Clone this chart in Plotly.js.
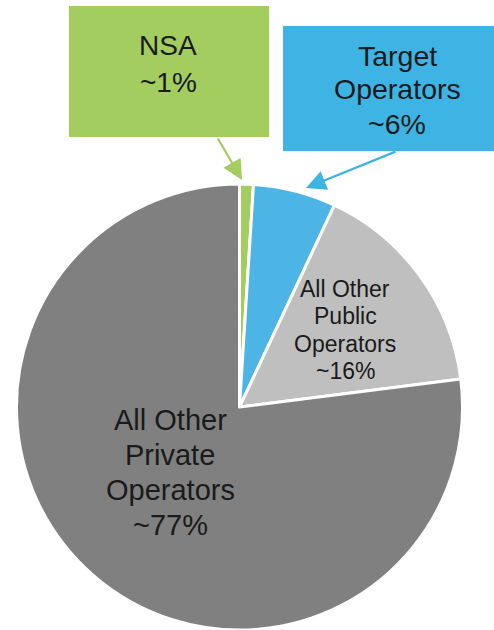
<!DOCTYPE html>
<html>
<head>
<meta charset="utf-8">
<script src="https://cdn.plot.ly/plotly-3.0.1.min.js"></script>
<style>html,body{margin:0;padding:0;background:#fff;}#chart{width:494px;height:630px;}</style>
</head>
<body>
<div id="chart"></div>
<script>
// ---- Data ----
const categories = ["NSA", "Target Operators", "All Other Public Operators", "All Other Private Operators"];
const shares = [1, 6, 16, 77];
const sliceColors = ["#A3CD5F", "#4DB4E6", "#BFBFBF", "#808080"];

// label lines
const nsaLines = ["NSA", "~1%"];
const targetLines = ["Target", "Operators", "~6%"];
const publicLines = ["All Other", "Public", "Operators", "~16%"];
const privateLines = ["All Other", "Private", "Operators", "~77%"];

const W = 494, H = 630;
const px = x => x / W;
const py = y => 1 - y / H;

const FONT = "'Liberation Sans', Arial, sans-serif";
const TXT = "#1a1a1a";

function lineAnnots(lines, cx, baselines, size) {
  return lines.map((t, i) => ({
    text: t, xref: "paper", yref: "paper",
    x: px(cx), y: py(baselines[i] - 0.33 * size),
    xanchor: "center", yanchor: "middle", showarrow: false,
    font: {family: FONT, size: size, color: TXT}
  }));
}

const annotations = []
  .concat(lineAnnots(nsaLines, 168, [55, 92], 28))
  .concat(lineAnnots(targetLines, 397, [65, 98, 133], 28.5))
  .concat(lineAnnots(publicLines, 345, [297, 323.5, 351.5, 379], 23))
  .concat(lineAnnots(privateLines, 170, [430, 465, 500, 535], 29))
  .concat([
    {text: "", xref: "paper", yref: "paper", x: px(242), y: py(180),
     ax: -25, ay: -43, axref: "pixel", ayref: "pixel", showarrow: true,
     arrowhead: 2, arrowsize: 1.8, arrowwidth: 2.2, arrowcolor: "#A3CD5F", standoff: 0},
    {text: "", xref: "paper", yref: "paper", x: px(306), y: py(188),
     ax: 91, ay: -37, axref: "pixel", ayref: "pixel", showarrow: true,
     arrowhead: 2, arrowsize: 1.8, arrowwidth: 2.2, arrowcolor: "#3EB4E4", standoff: 0}
  ]);

const shapes = [
  {type: "rect", xref: "paper", yref: "paper", x0: px(69), x1: px(269), y0: py(137), y1: py(6),
   fillcolor: "#A3CD5F", line: {width: 0}, layer: "below"},
  {type: "rect", xref: "paper", yref: "paper", x0: px(283), x1: px(512), y0: py(151), y1: py(26),
   fillcolor: "#3EB4E4", line: {width: 0}, layer: "below"}
];

const trace = {
  type: "pie",
  labels: categories,
  values: shares,
  sort: false,
  direction: "clockwise",
  rotation: 0,
  marker: {colors: sliceColors, line: {color: "#ffffff", width: 3}},
  textinfo: "none",
  hoverinfo: "none",
  showlegend: false,
  domain: {x: [16.5 / W, 462.5 / W], y: [0, 446 / H]}
};

const layout = {
  width: W, height: H,
  margin: {l: 0, r: 0, t: 0, b: 0},
  paper_bgcolor: "#ffffff",
  plot_bgcolor: "#ffffff",
  showlegend: false,
  shapes: shapes,
  annotations: annotations
};

Plotly.newPlot("chart", [trace], layout, {displayModeBar: false, staticPlot: true});
</script>
</body>
</html>
